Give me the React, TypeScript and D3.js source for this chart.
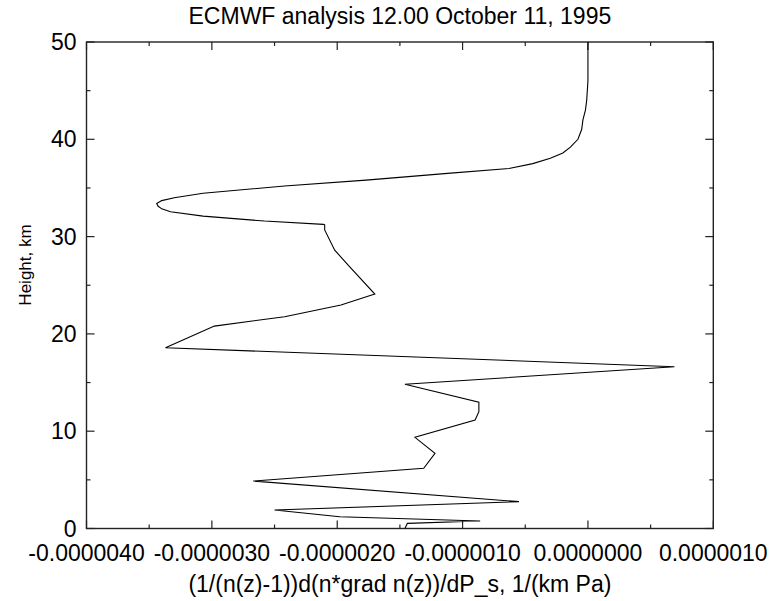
import React, { useRef, useEffect } from "react";
import * as d3 from "d3";

// profile: height (km) and value (1/(km Pa))
const heightKm = [
  50, 46, 44, 43, 42, 41, 40, 39.2, 38.6, 38.05, 37.5, 37.0, 36.5, 35.8, 35.2,
  34.45, 34.0, 33.7, 33.4, 33.14, 32.85, 32.56, 32.1, 31.6, 31.26, 31.2, 30.68,
  28.6, 26.9, 24.1, 22.97, 21.77, 20.8, 18.58, 16.63, 14.82, 12.97, 12.0,
  11.15, 9.37, 7.73, 6.19, 4.88, 2.76, 1.9, 1.21, 0.77, 0.53, 0,
];
const gradValues = [
  0, 0, -0.01e-6, -0.02e-6, -0.04e-6, -0.05e-6, -0.08e-6, -0.14e-6, -0.2e-6,
  -0.3e-6, -0.44e-6, -0.63e-6, -1.12e-6, -1.77e-6, -2.42e-6, -3.07e-6,
  -3.3e-6, -3.4e-6, -3.44e-6, -3.43e-6, -3.4e-6, -3.33e-6, -3.07e-6,
  -2.58e-6, -2.11e-6, -2.1e-6, -2.1e-6, -2.02e-6, -1.9e-6, -1.7e-6, -1.97e-6,
  -2.42e-6, -2.98e-6, -3.37e-6, 0.69e-6, -1.46e-6, -0.87e-6, -0.87e-6,
  -0.9e-6, -1.38e-6, -1.22e-6, -1.31e-6, -2.67e-6, -0.55e-6, -2.5e-6,
  -1.98e-6, -0.86e-6, -1.44e-6, -1.46e-6,
];

const xMajorTicks = [-4e-6, -3e-6, -2e-6, -1e-6, 0, 1e-6];
const xMinorTicks = [-3.5e-6, -2.5e-6, -1.5e-6, -0.5e-6, 0.5e-6];
const yMajorTicks = [0, 10, 20, 30, 40, 50];
const yMinorTicks = [5, 15, 25, 35, 45];

const titleText = "ECMWF analysis 12.00 October 11, 1995";
const xLabelText = "(1/(n(z)-1))d(n*grad n(z))/dP_s, 1/(km Pa)";
const yLabelText = "Height, km";

function App() {
  const svgRef = useRef<SVGSVGElement>(null);

  useEffect(() => {
    const svg = d3.select(svgRef.current);
    svg.selectAll("*").remove();

    const left = 86.5;
    const right = 713.3;
    const top = 42;
    const bottom = 528.5;
    const font = "'Liberation Sans', Arial, Helvetica, sans-serif";
    const fs = 23;

    const x = d3.scaleLinear().domain([-4e-6, 1e-6]).range([left, right]);
    const y = d3.scaleLinear().domain([0, 50]).range([bottom, top]);

    // frame
    svg
      .append("rect")
      .attr("x", left)
      .attr("y", top)
      .attr("width", right - left)
      .attr("height", bottom - top)
      .attr("fill", "none")
      .attr("stroke", "#222")
      .attr("stroke-width", 1.4);

    const ticks = svg.append("g").attr("stroke", "#222").attr("stroke-width", 1.2);
    const tick = (vals: number[], len: number) => {
      vals.forEach((v) => {
        const px = x(v);
        ticks.append("line").attr("x1", px).attr("x2", px).attr("y1", bottom).attr("y2", bottom - len);
        ticks.append("line").attr("x1", px).attr("x2", px).attr("y1", top).attr("y2", top + len);
      });
    };
    tick(xMajorTicks, 8);
    tick(xMinorTicks, 4);
    const ytick = (vals: number[], len: number) => {
      vals.forEach((v) => {
        const py = y(v);
        ticks.append("line").attr("x1", left).attr("x2", left + len).attr("y1", py).attr("y2", py);
        ticks.append("line").attr("x1", right).attr("x2", right - len).attr("y1", py).attr("y2", py);
      });
    };
    ytick(yMajorTicks, 8);
    ytick(yMinorTicks, 4);

    const label = (txt: string, px: number, py: number, anchor: string, size = fs) => {
      svg
        .append("text")
        .attr("x", px)
        .attr("y", py)
        .attr("text-anchor", anchor)
        .attr("font-family", font)
        .attr("font-size", size)
        .attr("fill", "#000")
        .text(txt);
    };

    const fmt = d3
      .formatLocale({ decimal: ".", thousands: ",", grouping: [3], currency: ["", ""], minus: "-" })
      .format(".7f");
    xMajorTicks.forEach((v) => label(fmt(v), x(v), bottom + 32, "middle"));
    yMajorTicks.forEach((v) => label(String(v), left - 10, y(v) + 8, "end"));

    label(titleText, (left + right) / 2, 24, "middle");
    label(xLabelText, (left + right) / 2, 592, "middle");
    svg
      .append("text")
      .attr("transform", `translate(31,265) rotate(-90)`)
      .attr("text-anchor", "middle")
      .attr("font-family", font)
      .attr("font-size", 17)
      .attr("fill", "#000")
      .text(yLabelText);

    const line = d3
      .line<number>()
      .x((d) => x(d))
      .y((_, i) => y(heightKm[i]));

    svg
      .append("path")
      .datum(gradValues)
      .attr("d", line)
      .attr("fill", "none")
      .attr("stroke", "#000")
      .attr("stroke-width", 1.1);
  }, []);

  return (
    <svg
      ref={svgRef}
      width={771}
      height={601}
      style={{ position: "absolute", left: 0, top: 0, background: "#fff" }}
    ></svg>
  );
}

export default App;
